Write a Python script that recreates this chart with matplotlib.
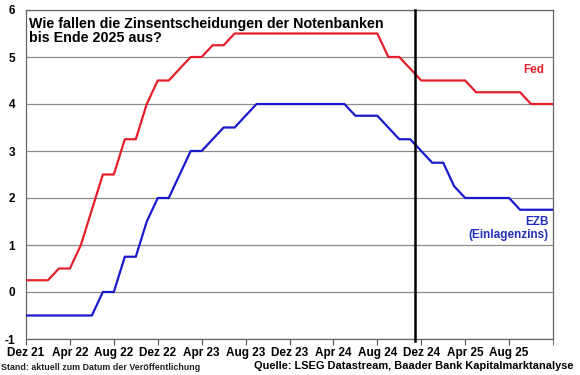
import matplotlib
matplotlib.use("Agg")
import matplotlib.pyplot as plt
import numpy as np

# Monthly values, Dec 2021 .. Dec 2025 (49 months)
fed = [0.25, 0.25, 0.25, 0.5, 0.5, 1.0, 1.75, 2.5, 2.5, 3.25, 3.25, 4.0, 4.5,
       4.5, 4.75, 5.0, 5.0, 5.25, 5.25, 5.5, 5.5, 5.5, 5.5, 5.5, 5.5,
       5.5, 5.5, 5.5, 5.5, 5.5, 5.5, 5.5, 5.5, 5.0, 5.0, 4.75, 4.5,
       4.5, 4.5, 4.5, 4.5, 4.25, 4.25, 4.25, 4.25, 4.25, 4.0, 4.0, 4.0]
ezb = [-0.5, -0.5, -0.5, -0.5, -0.5, -0.5, -0.5, 0.0, 0.0, 0.75, 0.75, 1.5, 2.0,
       2.0, 2.5, 3.0, 3.0, 3.25, 3.5, 3.5, 3.75, 4.0, 4.0, 4.0, 4.0,
       4.0, 4.0, 4.0, 4.0, 4.0, 3.75, 3.75, 3.75, 3.5, 3.25, 3.25, 3.0,
       2.75, 2.75, 2.25, 2.0, 2.0, 2.0, 2.0, 2.0, 1.75, 1.75, 1.75, 1.75]
months = np.arange(len(fed))  # months since Dec 2021
tick_months = [0, 4, 8, 12, 16, 20, 24, 28, 32, 36, 40, 44]
tick_labels = ["Dez 21", "Apr 22", "Aug 22", "Dez 22", "Apr 23", "Aug 23",
               "Dez 23", "Apr 24", "Aug 24", "Dez 24", "Apr 25", "Aug 25"]
today_month = 35.4
y_ticks = [-1, 0, 1, 2, 3, 4, 5, 6]

plt.rcParams['font.family'] = ['Liberation Sans', 'DejaVu Sans']

fig = plt.figure(figsize=(5.8, 3.75), dpi=100)
ax = fig.add_axes([26/580, 36/375, (553-26)/580, (339-10)/375])

red = "#e3202a"
blue = "#1a1acc"

ax.plot(months, fed, color=red, lw=1.6, zorder=3)
ax.plot(months, ezb, color=blue, lw=1.6, zorder=3)

ax.set_xlim(0, 48)
ax.set_ylim(-1, 6)
ax.set_yticks(y_ticks)
ax.set_yticklabels([str(v) for v in y_ticks], fontweight='bold', fontsize=8.5)
ax.set_xticks(tick_months)
ax.set_xticklabels(tick_labels, fontweight='bold', fontsize=8.5)
ax.tick_params(axis='y', length=0, pad=8)
ax.tick_params(axis='x', length=4, direction='out', pad=2, color="#555555")
ax.set_xticks([48], minor=True)
ax.tick_params(axis='x', which='minor', length=4, color="#555555")

ax.grid(axis='y', color="#8c8c8c", lw=0.9, zorder=1)
for s in ax.spines.values():
    s.set_color("#666666")
    s.set_linewidth(0.9)

ax.axvline(today_month, color="black", lw=1.8, zorder=4, ymin=-0.005, clip_on=False)

ax.text(0.006, 0.98, "Wie fallen die Zinsentscheidungen der Notenbanken\nbis Ende 2025 aus?",
        transform=ax.transAxes, ha='left', va='top', fontsize=10.3, fontweight='bold',
        linespacing=1.05, zorder=5)
ax.text(47.2, 4.72, "Fed", color=red, ha='right', va='center', fontsize=8.5, fontweight='bold')
ax.text(47.6, 1.35, "EZB\n(Einlagenzins)", color="#2230b8", ha='right', va='center',
        fontsize=8.5, fontweight='bold', multialignment='right', linespacing=1.1)

fig.text(1/580, 1 - 368/375, "Stand: aktuell zum Datum der Veröffentlichung",
         ha='left', va='center', fontsize=6.4, fontweight='bold', color="#222222")
fig.text(573/580, 1 - 366/375, "Quelle: LSEG Datastream, Baader Bank Kapitalmarktanalyse",
         ha='right', va='center', fontsize=7.9, fontweight='bold')

fig.savefig("out.png", dpi=100)
